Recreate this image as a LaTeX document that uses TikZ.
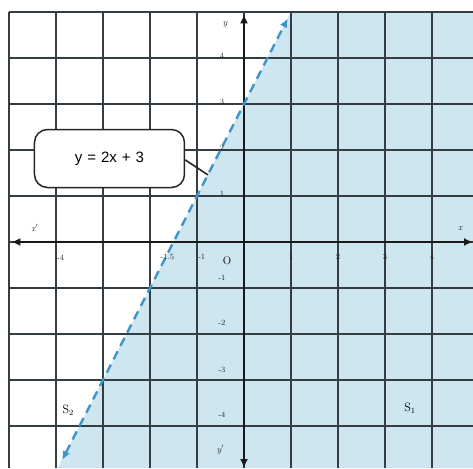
\documentclass[tikz,border=0pt]{standalone}
\usepackage{fontspec}
\newfontfamily\calloutfont{Liberation Sans}
\usetikzlibrary{arrows.meta}
\definecolor{shadeblue}{RGB}{206,230,240}
\definecolor{gridc}{RGB}{52,62,66}
\definecolor{lineblue}{RGB}{62,150,200}
\tikzset{
  gridline/.style={draw=gridc, line width=1.5pt},
  axisline/.style={draw=black!90, line width=2.2pt, {Latex[length=9pt,width=8pt]}-{Latex[length=9pt,width=8pt]}},
  graphline/.style={draw=lineblue, line width=2.4pt, dash pattern=on 9pt off 6pt, {Latex[length=9pt,width=8pt]}-{Latex[length=9pt,width=8pt]}},
  ticklbl/.style={font=\fontsize{8}{8}\selectfont, text=black!85, inner sep=0.5pt},
  axlbl/.style={font=\fontsize{9}{9}\selectfont\itshape, text=black!85, inner sep=0.5pt},
  regionlbl/.style={font=\fontsize{12}{12}\selectfont, inner sep=0.5pt},
  callout/.style={draw=black!85, line width=1.5pt, fill=white, rounded corners=13pt, minimum width=150pt, minimum height=58pt, font=\calloutfont\fontsize{15}{15}\selectfont}
}
\begin{document}
\begin{tikzpicture}[x=47pt,y=46pt]
\useasboundingbox (-5.1915,-4.913) rectangle (4.8723,5.2609);
\fill[white] (-5.1915,-4.913) rectangle (4.8723,5.2609);
% shaded half-plane y < 2x+3
\fill[shadeblue] (1,5) -- (-3.9565,-4.913) -- (4.8723,-4.913) -- (4.8723,5) -- cycle;
% grid
\foreach \i in {-5,...,4} \draw[gridline] (\i,-4.913) -- (\i,5);
\foreach \j in {-4,...,5} \draw[gridline] (-5,\j) -- (4.8723,\j);
% axes
\coordinate (xl) at (-4.95,0);
\coordinate (xr) at (4.8723,0);
\coordinate (yt) at (0,4.95);
\coordinate (yb) at (0,-4.913);
\draw[axisline] (xl) -- (xr);
\draw[axisline] (yb) -- (yt);
% graph line y = 2x + 3
\coordinate (gb) at (-3.87,-4.74);
\coordinate (gt) at (0.93,4.86);
\draw[graphline] (gb) -- (gt);
% callout
\node[callout] (eq) at (-2.862,1.815) {y\hspace{5pt}=\hspace{5pt}2x\hspace{5pt}+\hspace{5pt}3};
\coordinate (pt) at (-0.77,1.46);
\draw[draw=black!85, line width=1.6pt] (eq.east) ++(0,-0.03) -- (pt);
% axis labels
\node[axlbl] (lx1) at (-4.45,0.3) {x$'$};
\node[axlbl] (lx) at (4.6,0.3) {x};
\node[axlbl] (ly) at (-0.4,4.72) {y};
\node[axlbl] (ly1) at (-0.5,-4.52) {y$'$};
\node[font=\fontsize{11}{11}\selectfont, inner sep=0.5pt] (o) at (-0.36,-0.4) {O};
% tick labels
\foreach \k in {1,2,3,4} \node[ticklbl] (tx\k) at (\k,-0.33) {\k};
\node[ticklbl] (txm4) at (-3.9,-0.35) {-4};
\node[ticklbl, anchor=east] (txm15) at (-1.47,-0.33) {-1.5};
\node[ticklbl] (txm1) at (-0.9,-0.33) {-1};
\foreach \k in {1,2,3,4} \node[ticklbl] (ty\k) at (-0.47,\k+0.05) {\k};
\node[ticklbl] (tym1) at (-0.47,-0.78) {-1};
\node[ticklbl] (tym2) at (-0.47,-1.76) {-2};
\node[ticklbl] (tym3) at (-0.47,-2.78) {-3};
\node[ticklbl] (tym4) at (-0.47,-3.76) {-4};
% region labels
\node[regionlbl] (s2) at (-3.74,-3.65) {S$_2$};
\node[regionlbl] (s1) at (3.53,-3.61) {S$_1$};
\end{tikzpicture}
\end{document}
